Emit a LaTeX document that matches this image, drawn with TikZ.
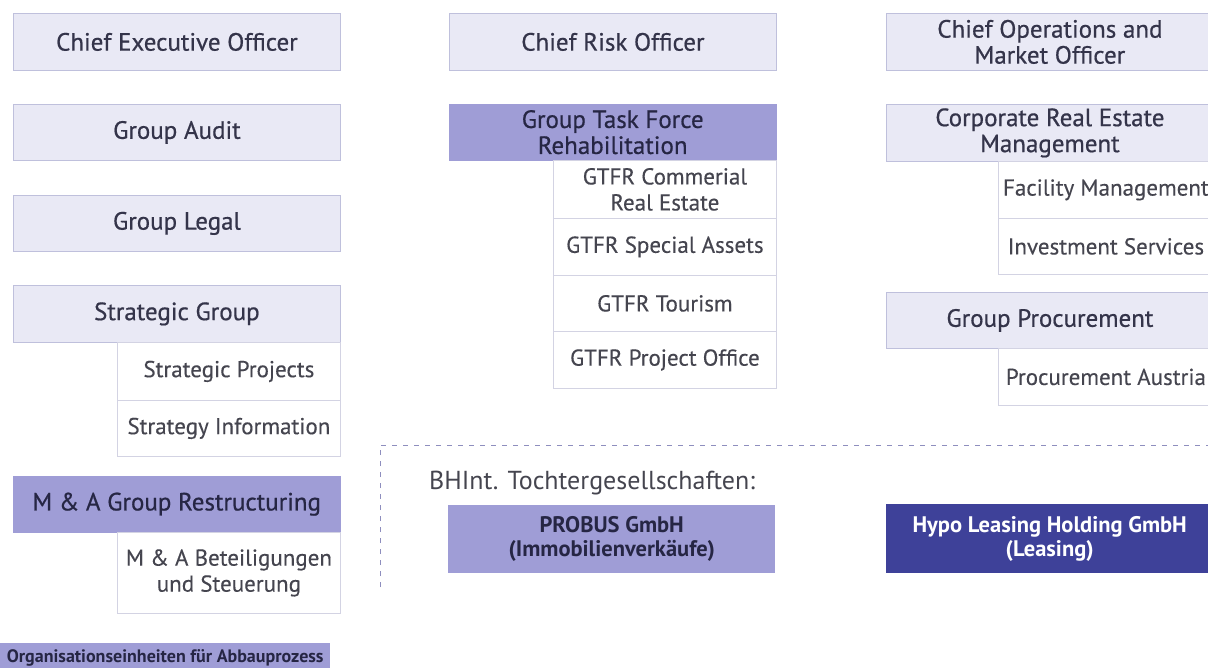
\documentclass[tikz,border=0pt]{standalone}
\usepackage{fontspec}
\setmainfont{PT Sans}
\newfontfamily\medfont[FakeBold=0.6]{PT Sans}
\newfontfamily\subfont[FakeBold=0.25]{PT Sans}
\definecolor{lightfill}{HTML}{E9E9F5}
\definecolor{lightdraw}{HTML}{BFC0DC}
\definecolor{lav}{HTML}{9F9DD6}
\definecolor{wdraw}{HTML}{D3D3E3}
\definecolor{maintext}{HTML}{34344A}
\definecolor{subtext}{HTML}{45454F}
\definecolor{navy}{HTML}{3E4199}
\definecolor{dashc}{HTML}{8E8EBE}
\definecolor{darktext}{HTML}{262644}
\newcommand{\bx}[7]{\node[#1, minimum width={(#5-#3)*1pt}, minimum height={(#6-#4)*1pt}] (#2) at (#3,#4) {#7};}
\begin{document}
\begin{tikzpicture}[x=1pt,y=-1pt,
  base/.style={anchor=north west, inner sep=0pt, align=center},
  lbox/.style={base, fill=lightfill, draw=lightdraw, line width=0.8pt, text=maintext, font=\medfont\fontsize{25}{26}\selectfont},
  dbox/.style={base, fill=lav, draw=lav, text=darktext, font=\medfont\fontsize{25}{26}\selectfont},
  wbox/.style={base, fill=white, draw=wdraw, line width=0.8pt, text=subtext, font=\subfont\fontsize{23}{26}\selectfont},
  cbox/.style={base, font=\bfseries\fontsize{22.5}{24}\selectfont},
  dashline/.style={draw=dashc, line width=1pt, dash pattern=on 5pt off 6pt}]
\useasboundingbox (0,0) rectangle (1208,668);
\begin{scope}
\clip (0,0) rectangle (1208,668);
% left column
\bx{lbox}{ceo}{13}{13}{340}{70}{Chief Executive Officer}
\bx{lbox}{audit}{13}{104}{340}{160}{Group Audit}
\bx{lbox}{legal}{13}{195}{340}{251}{Group Legal}
\bx{lbox}{strat}{13}{285}{340}{342}{Strategic Group}
\bx{wbox}{sp}{117}{342}{340}{400}{Strategic Projects}
\bx{wbox}{si}{117}{400}{340}{456}{Strategy Information}
\bx{dbox}{ma}{13}{476}{340}{532}{M \& A Group Restructuring}
\bx{wbox}{mab}{117}{532}{340}{613}{M \& A Beteiligungen\\und Steuerung}
\node[base, fill=lav, text=darktext, font=\bfseries\fontsize{18}{20}\selectfont,
  minimum width=330pt, minimum height=40pt, text depth=14pt] (org) at (0,643) {Organisationseinheiten für Abbauprozess};
% middle column
\bx{lbox}{cro}{449}{13}{776}{70}{Chief Risk Officer}
\bx{dbox}{gtfr}{449}{104}{776}{160}{Group Task Force\\Rehabilitation}
\bx{wbox}{gc}{553}{160}{776}{218}{GTFR Commerial\\Real Estate}
\bx{wbox}{gsa}{553}{218}{776}{275}{GTFR Special Assets}
\bx{wbox}{gt}{553}{275}{776}{331}{GTFR Tourism}
\bx{wbox}{gpo}{553}{331}{776}{388}{GTFR Project Office}
% right column
\bx{lbox}{como}{886}{13}{1213}{70}{Chief Operations and\\Market Officer}
\bx{lbox}{crem}{886}{104}{1213}{161}{Corporate Real Estate\\Management}
\bx{wbox}{fm}{998}{161}{1213}{218}{Facility Management}
\bx{wbox}{is}{998}{218}{1213}{274}{Investment Services}
\bx{lbox}{gp}{886}{292}{1213}{348}{Group Procurement}
\bx{wbox}{pa}{998}{348}{1213}{405}{Procurement Austria}
% subsidiaries
\draw[dashline] (380,587) -- (380,445) -- (1215,445);
\node[anchor=west, inner sep=0pt, text=subtext, font=\fontsize{26}{28}\selectfont] (bh) at (429,483) {BHInt. Tochtergesellschaften:};
\bx{cbox, fill=lav, text=darktext}{probus}{448}{505}{775}{573}{PROBUS GmbH\\(Immobilienverkäufe)}
\bx{cbox, fill=navy, text=white}{hypo}{886}{504}{1213}{573}{Hypo Leasing Holding GmbH\\(Leasing)}
\end{scope}
\end{tikzpicture}
\end{document}
